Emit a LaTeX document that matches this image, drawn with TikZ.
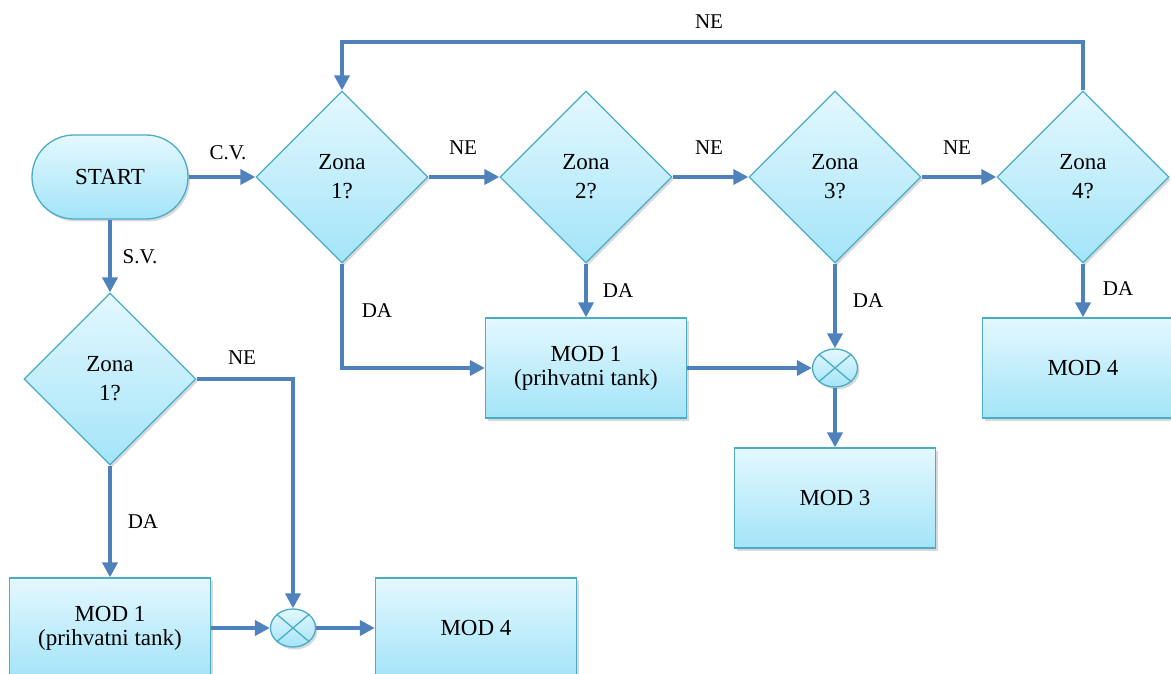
\documentclass[tikz,border=0pt]{standalone}
\usepackage{fontspec}
\setmainfont{Liberation Serif}
\newfontfamily\tmsfont{Liberation Serif}
\usetikzlibrary{shapes.geometric,arrows.meta,shadows}
\definecolor{edgec}{HTML}{4BACC6}
\definecolor{flowc}{HTML}{4F81BD}
\definecolor{ftop}{HTML}{E4F8FE}
\definecolor{fbot}{HTML}{A3E4F8}
\begin{document}
\begin{tikzpicture}[x=1pt,y=-1pt,
  base/.style={draw=edgec,line width=1.3pt,top color=ftop,bottom color=fbot,
    drop shadow={shadow xshift=2pt,shadow yshift=-2.5pt,opacity=0.3,fill=black!50},
    font=\tmsfont\fontsize{23}{29}\selectfont,align=center,inner sep=0pt},
  term/.style={base,rectangle,rounded corners=42pt,minimum width=156pt,minimum height=84pt},
  dec/.style={base,diamond,minimum width=172pt,minimum height=172pt},
  box/.style={base,rectangle,minimum width=201pt,minimum height=100pt,font=\tmsfont\fontsize{23}{24}\selectfont},
  sum/.style={base,ellipse,minimum width=45pt,minimum height=38pt},
  flowline/.style={draw=flowc,line width=3.8pt,-{Triangle[length=15pt,width=15pt]}},
  lab/.style={font=\tmsfont\fontsize{21}{24}\selectfont,inner sep=0pt}
]
\useasboundingbox (0,0) rectangle (1171,674);
\clip (0,0) rectangle (1171,674);

\node[term] (st) at (110,177) {START};
\node[dec] (z1) at (342,177) {Zona\\1?};
\node[dec] (z2) at (586,177) {Zona\\2?};
\node[dec] (z3) at (835,177) {Zona\\3?};
\node[dec] (z4) at (1083,177) {Zona\\4?};
\node[dec] (lz) at (110,379) {Zona\\1?};
\node[box] (m1) at (586,368) {MOD 1\\(prihvatni tank)};
\node[sum] (s1) at (835,368) {};
\node[box] (m3) at (835,498) {MOD 3};
\node[box] (m4) at (1083,368) {MOD 4};
\node[box] (bm1) at (110,628) {MOD 1\\(prihvatni tank)};
\node[sum] (s2) at (293,628) {};
\node[box] (bm4) at (476,628) {MOD 4};

\foreach \s in {s1,s2}{
  \draw[edgec,line width=1.3pt] (\s.north east) -- (\s.south west);
  \draw[edgec,line width=1.3pt] (\s.north west) -- (\s.south east);
}

\draw[flowline] (st.east) -- (z1.west);
\draw[flowline] (st.south) -- (lz.north);
\draw[flowline] (z1.east) -- (z2.west);
\draw[flowline] (z2.east) -- (z3.west);
\draw[flowline] (z3.east) -- (z4.west);
\draw[flowline] (z4.north) -- ++(0,-48) -| (z1.north);
\draw[flowline] (z1.south) |- (m1.west);
\draw[flowline] (z2.south) -- (m1.north);
\draw[flowline] (z3.south) -- (s1.north);
\draw[flowline] (m1.east) -- (s1.west);
\draw[flowline] (s1.south) -- (m3.north);
\draw[flowline] (z4.south) -- (m4.north);
\draw[flowline] (lz.south) -- (bm1.north);
\draw[flowline] (lz.east) -| (s2.north);
\draw[flowline] (bm1.east) -- (s2.west);
\draw[flowline] (s2.east) -- (bm4.west);

\node[lab] (l1) at (228,153) {C.V.};
\node[lab] (l2) at (140,257) {S.V.};
\node[lab] (l3) at (463,148) {NE};
\node[lab] (l4) at (709,148) {NE};
\node[lab] (l5) at (957,148) {NE};
\node[lab] (l6) at (709,22) {NE};
\node[lab] (l7) at (377,311) {DA};
\node[lab] (l8) at (618,291) {DA};
\node[lab] (l9) at (868,301) {DA};
\node[lab] (l10) at (1118,289) {DA};
\node[lab] (l11) at (143,522) {DA};
\node[lab] (l12) at (242,358) {NE};
\end{tikzpicture}
\end{document}
